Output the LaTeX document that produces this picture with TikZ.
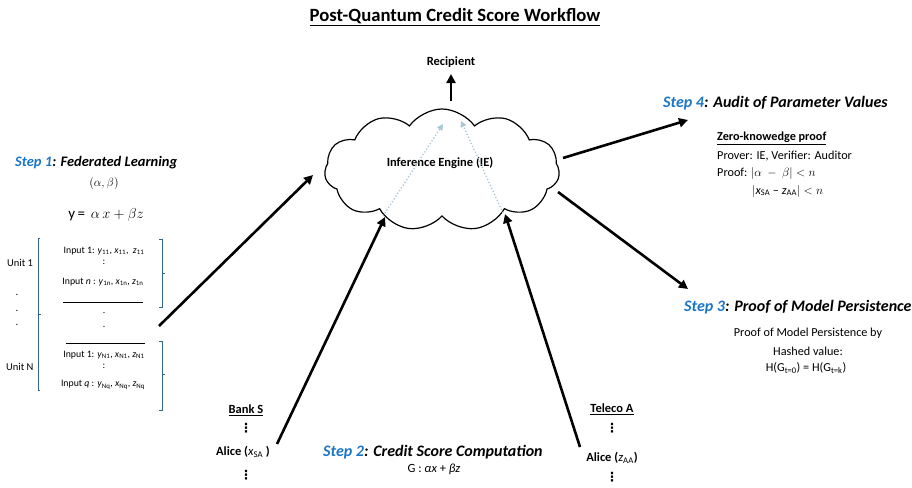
\documentclass[tikz,border=0pt]{standalone}
\usepackage{fontspec}
\setmainfont{Carlito}
\usetikzlibrary{shapes.symbols,arrows.meta}
\definecolor{stepblue}{RGB}{28,118,200}
\definecolor{brk}{RGB}{44,104,140}
\definecolor{dotblue}{RGB}{168,198,214}
\begin{document}
\begin{tikzpicture}[x=1pt,y=-1pt,
  bigarrow/.style={line width=2.6pt,-{Triangle[length=9pt,width=9pt]}},
  dotarrow/.style={dotblue,line width=1.3pt,dotted,-{Triangle[length=6pt,width=6pt]}},
  bracket/.style={brk,line width=1pt},
  steph/.style={font=\fontsize{16}{18}\selectfont\bfseries\itshape,anchor=west,inner sep=0pt},
  body/.style={font=\fontsize{12.2}{14}\selectfont,inner sep=0pt},
  unitl/.style={font=\fontsize{10.5}{12}\selectfont,inner sep=0pt},
  small/.style={font=\fontsize{9.8}{11}\selectfont,inner sep=0pt},
  lbl/.style={font=\fontsize{12.5}{14}\selectfont\bfseries,inner sep=0pt}]
\useasboundingbox (0,0) rectangle (912,487);

% title
\node[font=\fontsize{18.7}{22}\selectfont\bfseries,inner sep=0pt] (title) at (455,17) {\underline{Post-Quantum Credit Score Workflow}};

% cloud
\node[cloud,draw,line width=1.2pt,cloud puffs=11,cloud puff arc=110,aspect=1.9,
      minimum width=235pt,minimum height=122pt,inner sep=0pt] (ie) at (442,170) {};
\node[lbl] (ielbl) at (440,163) {Inference Engine (IE)};

% recipient
\node[lbl] (rec) at (451,62) {Recipient};
\coordinate (recfrom) at (451,101);
\draw[bigarrow] (recfrom) -- (rec.south |- 0,74);

% dotted arrows inside cloud
\coordinate (d1s) at (383,216); \coordinate (d1e) at (443,124);
\coordinate (d2s) at (503,213); \coordinate (d2e) at (461,121);
\draw[dotarrow] (d1s) -- (d1e);
\draw[dotarrow] (d2s) -- (d2e);

% Step 1
\node[steph,font=\fontsize{14.5}{16}\selectfont\bfseries\itshape] (s1) at (15,163) {\textcolor{stepblue}{Step 1}: Federated Learning};
\node[body] (ab) at (104,183) {$(\alpha,\beta)$};
\node[font=\fontsize{15}{17}\selectfont,inner sep=0pt] (eq) at (106,215) {y\,=\, $\alpha\, x + \beta z$};

\node[unitl,anchor=west] (u1) at (7,263) {Unit 1};
\node[unitl] (ld1) at (17,295) {.};
\node[unitl] (ld2) at (17,311) {.};
\node[unitl] (ld3) at (17,325) {.};
\node[unitl,anchor=west] (un) at (6,367) {Unit N};

\draw[bracket] (40,238) -- (38.5,238) -- (38.5,390) -- (40,390);
\draw[bracket] (38.5,314) -- (41,314);

\node[small] (i11) at (104,251) {Input 1: \textit{y}\textsubscript{11}, \textit{x}\textsubscript{11}, \ \textit{z}\textsubscript{11}};
\node[small] (c1) at (104,262) {:};
\node[small] (i1n) at (103,282) {Input \textit{n} : \textit{y}\textsubscript{1n}, \textit{x}\textsubscript{1n}, \textit{z}\textsubscript{1n}};
\coordinate (l1a) at (63,302); \coordinate (l1b) at (143,302);
\draw[line width=0.5pt] (l1a) -- (l1b);
\node[small] (md1) at (104,313) {.};
\node[small] (md2) at (104,327) {.};
\coordinate (l2a) at (66,343); \coordinate (l2b) at (145,343);
\draw[line width=0.5pt] (l2a) -- (l2b);
\node[small] (in1) at (104,355) {Input 1: \textit{y}\textsubscript{N1}, \textit{x}\textsubscript{N1}, \textit{z}\textsubscript{N1}};
\node[small] (c2) at (104,366) {:};
\node[small] (inq) at (103,385) {Input \textit{q} : \textit{y}\textsubscript{Nq}, \textit{x}\textsubscript{Nq}, \textit{z}\textsubscript{Nq}};

\draw[bracket] (159,239) -- (162.5,239) -- (162.5,307) -- (159,307);
\draw[bracket] (162.5,273) -- (165,273);
\draw[bracket] (159,341) -- (162.5,341) -- (162.5,410) -- (159,410);
\draw[bracket] (162.5,374) -- (165,374);

\coordinate (fl) at (159,326);
\draw[bigarrow] (fl) -- (313,175);

% Bank S
\node[lbl] (bank) at (246,410) {\underline{Bank S}};
\node[lbl] (bd1) at (246,428) {\fontspec{DejaVu Sans}⋮};
\node[lbl] (aliceS) at (243,452) {Alice (\textit{\mdseries x}\textsubscript{\mdseries SA} )};
\node[lbl] (bd2) at (246,475) {\fontspec{DejaVu Sans}⋮};
\coordinate (bs) at (277,444);
\draw[bigarrow] (bs) -- (385,217);

% Teleco A
\node[lbl] (tel) at (612,409) {\underline{Teleco A}};
\node[lbl] (td1) at (612,428) {\fontspec{DejaVu Sans}⋮};
\node[lbl] (aliceA) at (612,458) {Alice (\textit{\mdseries z}\textsubscript{\mdseries AA})};
\node[lbl] (td2) at (612,477) {\fontspec{DejaVu Sans}⋮};
\coordinate (ts) at (580,447);
\draw[bigarrow] (ts) -- (505,214);

% Step 2
\node[steph] (s2) at (323,452) {\textcolor{stepblue}{Step 2}: Credit Score Computation};
\node[body,font=\fontsize{12.5}{14}\selectfont] (g) at (434,469) {G : \textit{αx} + \textit{βz}};

% Step 4
\coordinate (a4s) at (563,158);
\draw[bigarrow] (a4s) -- (688,120);
\node[steph] (s4) at (663,103) {\textcolor{stepblue}{Step 4}: Audit of Parameter Values};
\node[body,anchor=west,font=\fontsize{12.2}{14}\selectfont\bfseries] (zk) at (717,138) {\underline{Zero-knowedge proof}};
\node[body,anchor=west] (pv) at (717,156) {Prover: IE, Verifier: Auditor};
\node[body,anchor=west] (pf) at (717,173) {Proof: $|\alpha\ -\ \beta| < n$};
\node[body,anchor=west] (pf2) at (752,191) {$|$\textit{x}\textsubscript{SA} -- \textit{z}\textsubscript{AA}$| < n$};

% Step 3
\coordinate (a3s) at (558,192);
\draw[bigarrow] (a3s) -- (688,289);
\node[steph] (s3) at (684,307) {\textcolor{stepblue}{Step 3}: Proof of Model Persistence};
\node[body] (p1) at (808,333) {Proof of Model Persistence by};
\node[body] (p2) at (808,351) {Hashed value:};
\node[body] (p3) at (806,368) {H(G\textsubscript{t=0}) = H(G\textsubscript{t=k})};
\end{tikzpicture}
\end{document}
